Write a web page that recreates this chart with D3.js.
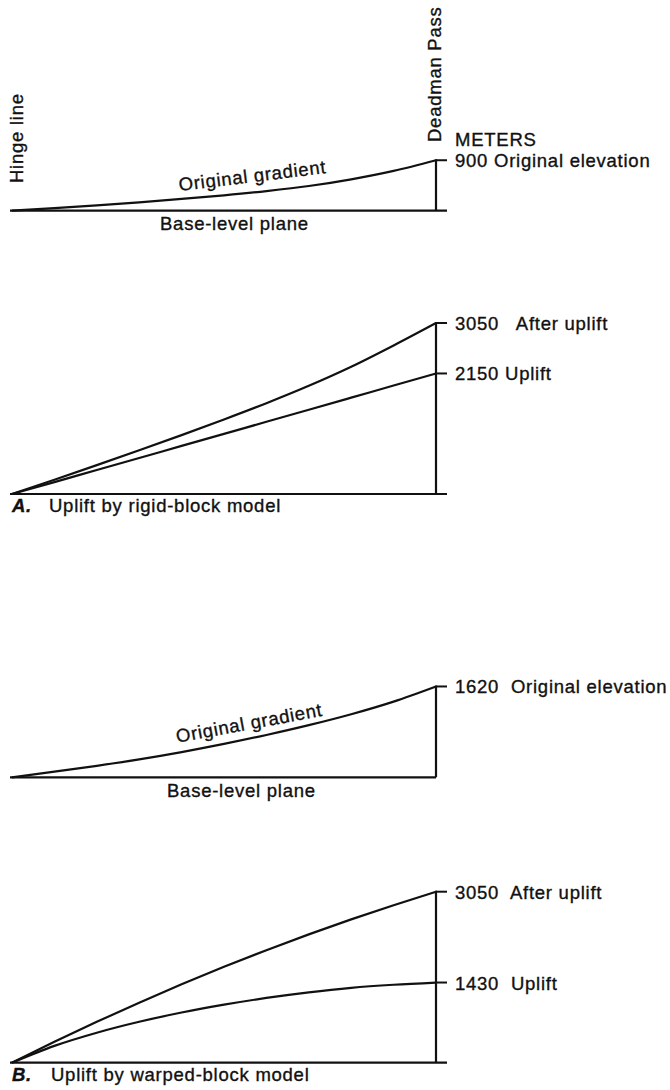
<!DOCTYPE html>
<html><head><meta charset="utf-8">
<script src="https://cdn.jsdelivr.net/npm/d3@7"></script>
<style>
body{margin:0;background:#fff}
svg text{font-family:"Liberation Sans",Arial,Helvetica,sans-serif;font-size:18.5px;fill:#111;letter-spacing:0.75px;stroke:#111;stroke-width:0.35px;white-space:pre}
</style></head><body>
<svg id="c" width="670" height="1090"></svg>
<script>
// distance from hinge line (0) to Deadman Pass (10), arbitrary units
const distance = [0, 1, 2, 3, 4, 5, 6, 7, 8, 9, 10];
// elevations in meters
const rigidOriginal  = [0, 45, 95, 150, 210, 275, 350, 440, 560, 710, 900];
const rigidUplift    = [0, 212, 428, 642, 858, 1072, 1288, 1502, 1718, 1935, 2150];
const rigidAfter     = [0, 255, 515, 780, 1050, 1330, 1620, 1930, 2270, 2650, 3050];
const warpedOriginal = [0, 100, 205, 320, 450, 595, 755, 930, 1125, 1350, 1620];
const warpedUplift   = [0, 300, 535, 730, 895, 1035, 1155, 1255, 1335, 1390, 1430];
const warpedAfter    = [0, 372, 729, 1071, 1398, 1710, 2007, 2289, 2556, 2808, 3050];

const ticksA1 = [900],        labelsA1 = ["Original elevation"];
const ticksA2 = [3050, 2150], labelsA2 = ["After uplift", "Uplift"];
const ticksB1 = [1620],       labelsB1 = ["Original elevation"];
const ticksB2 = [3050, 1430], labelsB2 = ["After uplift", "Uplift"];

const svg = d3.select("#c");
const x = d3.scaleLinear().domain([0, 10]).range([12, 436]);
const maxElev = 3050, pxHeight = 171;

const panels = [
  {base: 210.7, series: [rigidOriginal], ticks: ticksA1, labels: labelsA1, gaps: [1], ext: true,
   baseLabel: {x: 160}, grad: {series: rigidOriginal, at: 3.95, off: 8, rot: -7}},
  {base: 494, series: [rigidAfter, rigidUplift], ticks: ticksA2, labels: labelsA2, gaps: [3, 1], ext: true,
   caption: ["A.", "Uplift by rigid-block model"], capDx: 17},
  {base: 777.3, series: [warpedOriginal], ticks: ticksB1, labels: labelsB1, gaps: [2], ext: false,
   baseLabel: {x: 167}, grad: {series: warpedOriginal, at: 3.9, off: 10, rot: -10.5}},
  {base: 1062.7, series: [warpedAfter, warpedUplift], ticks: ticksB2, labels: labelsB2, gaps: [2, 2], ext: true,
   caption: ["B.", "Uplift by warped-block model"], capDx: 19}
];

panels.forEach(p => {
  const y = d3.scaleLinear().domain([0, maxElev]).range([p.base, p.base - pxHeight]);
  const g = svg.append("g");
  // base-level plane
  g.append("line").attr("x1", x(0) - 2).attr("x2", p.ext ? x(10) + 11 : x(10))
    .attr("y1", y(0)).attr("y2", y(0)).attr("stroke", "#111").attr("stroke-width", 2.2);
  // vertical at Deadman Pass
  g.append("line").attr("x1", x(10)).attr("x2", x(10))
    .attr("y1", y(0)).attr("y2", y(d3.max(p.ticks)) - 1).attr("stroke", "#111").attr("stroke-width", 2.2);
  // profiles
  const line = d3.line().x((d, i) => x(distance[i])).y(d => y(d)).curve(d3.curveMonotoneX);
  p.series.forEach(s => {
    g.append("path").attr("d", line(s)).attr("fill", "none").attr("stroke", "#111")
      .attr("stroke-width", 2.2).attr("stroke-linejoin", "round");
  });
  // ticks and labels
  p.ticks.forEach((t, i) => {
    g.append("line").attr("x1", x(10)).attr("x2", x(10) + 11)
      .attr("y1", y(t)).attr("y2", y(t)).attr("stroke", "#111").attr("stroke-width", 2);
    g.append("text").attr("x", x(10) + 19).attr("y", y(t) + 7)
      .text(d3.format("d")(t) + " ".repeat(p.gaps[i]) + p.labels[i]);
  });
  if (p.baseLabel) {
    g.append("text").attr("x", p.baseLabel.x).attr("y", y(0) + 19.5).text("Base-level plane");
  }
  if (p.grad) {
    const i0 = Math.floor(p.grad.at), f = p.grad.at - i0;
    const v = p.grad.series[i0] * (1 - f) + p.grad.series[i0 + 1] * f;
    g.append("text")
      .attr("transform", `translate(${x(p.grad.at)},${y(v) - p.grad.off}) rotate(${p.grad.rot})`)
      .text("Original gradient");
  }
  if (p.caption) {
    const t = g.append("text").attr("x", x(0)).attr("y", y(0) + 18);
    t.append("tspan").attr("font-weight", "bold").attr("font-style", "italic").text(p.caption[0]);
    t.append("tspan").attr("dx", p.capDx).text(p.caption[1]);
  }
});

// top annotations
svg.append("text").attr("transform", "translate(23,183) rotate(-90)").text("Hinge line");
svg.append("text").attr("transform", "translate(441,142) rotate(-90)").text("Deadman Pass");
svg.append("text").attr("x", 455).attr("y", 146).text("METERS");
</script>
</body></html>
